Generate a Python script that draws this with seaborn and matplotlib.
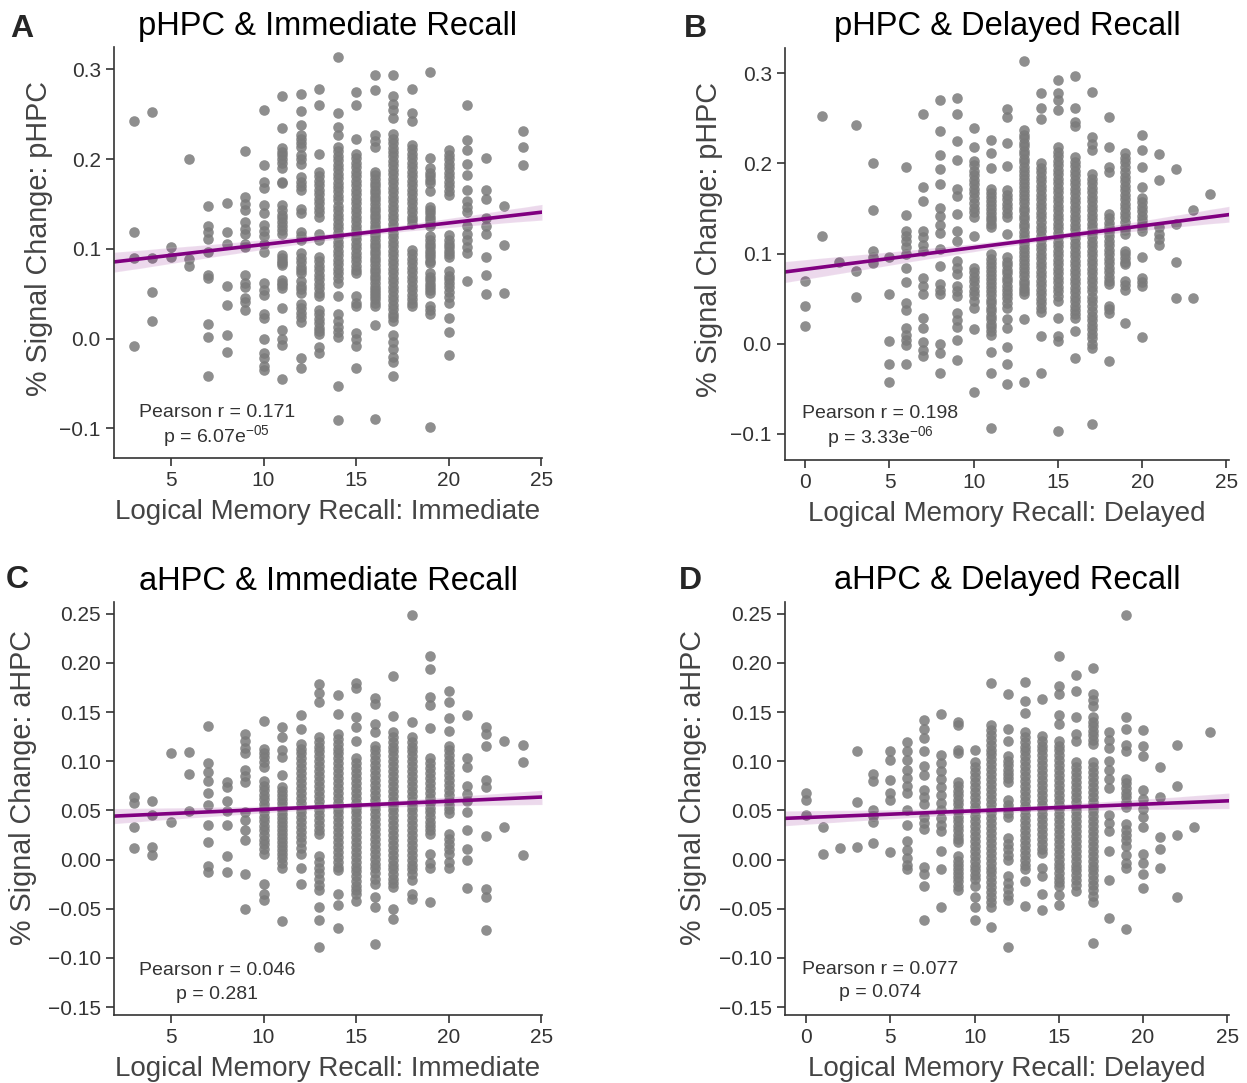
import numpy as np
import pandas as pd
import matplotlib.pyplot as plt
import seaborn as sns

# recall score -> % signal change
phpc_immediate = {
    3: [0.243, 0.119, 0.090, -0.008],
    4: [0.253, 0.090, 0.052, 0.020],
    5: [0.102, 0.091],
    6: [0.200, 0.089, 0.081],
    7: [0.148, 0.126, 0.119, 0.111, 0.097, 0.071, 0.068, 0.016, 0.002, -0.042],
    8: [0.151, 0.119, 0.106, 0.059, 0.037, 0.004, -0.015],
    9: [0.209, 0.158, 0.150, 0.143, 0.130, 0.122, 0.117, 0.105, 0.102, 0.071, 0.062, 0.058, 0.045, 0.041, 0.032],
    10: [0.255, 0.194, 0.175, 0.168, 0.149, 0.140, 0.127, 0.120, 0.114, 0.106, 0.097, 0.062, 0.054, 0.049,
         0.028, 0.023, 0.000, -0.016, -0.022, -0.031, -0.035],
    11: [0.270, 0.235, 0.212, 0.208, 0.205, 0.200, 0.196, 0.190, 0.175, 0.173, 0.149, 0.143, 0.138, 0.134,
         0.130, 0.125, 0.121, 0.117, 0.093, 0.090, 0.087, 0.084, 0.082, 0.065, 0.062, 0.060, 0.056, 0.034,
         0.010, 0.000, -0.007, -0.045],
    12: [0.273, 0.254, 0.238, 0.227, 0.222, 0.218, 0.214, 0.205, 0.200, 0.195, 0.180, 0.175, 0.170, 0.166,
         0.145, 0.140, 0.119, 0.114, 0.110, 0.095, 0.090, 0.085, 0.080, 0.076, 0.073, 0.064, 0.059, 0.055,
         0.051, 0.039, 0.034, 0.029, 0.024, 0.019, -0.022, -0.033],
    13: [0.278, 0.260, 0.206, 0.186, 0.181, 0.176, 0.171, 0.166, 0.161, 0.156, 0.151, 0.146, 0.141, 0.136,
         0.117, 0.110, 0.091, 0.086, 0.081, 0.076, 0.071, 0.066, 0.061, 0.056, 0.051, 0.047, 0.032, 0.027,
         0.022, 0.017, 0.012, 0.008, 0.005, -0.009, -0.016],
    14: [0.314, 0.252, 0.236, 0.227, 0.214, 0.209, 0.204, 0.199, 0.194, 0.189, 0.184, 0.179, 0.174, 0.169,
         0.164, 0.159, 0.154, 0.148, 0.143, 0.138, 0.133, 0.128, 0.123, 0.118, 0.113, 0.108, 0.103, 0.098,
         0.093, 0.088, 0.083, 0.078, 0.073, 0.068, 0.062, 0.047, 0.027, 0.020, 0.013, 0.007, 0.002, -0.053, -0.091],
    15: [0.275, 0.260, 0.222, 0.206, 0.201, 0.196, 0.191, 0.186, 0.181, 0.176, 0.171, 0.166, 0.161, 0.156,
         0.151, 0.146, 0.141, 0.136, 0.131, 0.126, 0.121, 0.116, 0.111, 0.106, 0.101, 0.096, 0.091, 0.086,
         0.081, 0.077, 0.073, 0.047, 0.040, 0.036, 0.006, 0.000, -0.008, -0.033],
    16: [0.294, 0.277, 0.227, 0.220, 0.214, 0.186, 0.182, 0.178, 0.174, 0.170, 0.166, 0.162, 0.158, 0.154,
         0.150, 0.146, 0.142, 0.138, 0.134, 0.130, 0.126, 0.122, 0.118, 0.114, 0.110, 0.106, 0.102, 0.098,
         0.094, 0.090, 0.086, 0.082, 0.078, 0.074, 0.070, 0.066, 0.062, 0.058, 0.054, 0.051, 0.047, 0.044,
         0.040, 0.036, 0.015, -0.089],
    17: [0.294, 0.270, 0.262, 0.255, 0.246, 0.228, 0.223, 0.218, 0.213, 0.208, 0.203, 0.198, 0.193, 0.188,
         0.183, 0.178, 0.173, 0.168, 0.163, 0.158, 0.153, 0.148, 0.143, 0.138, 0.133, 0.128, 0.123, 0.118,
         0.113, 0.108, 0.103, 0.098, 0.093, 0.088, 0.083, 0.078, 0.073, 0.068, 0.063, 0.058, 0.053, 0.048,
         0.043, 0.038, 0.033, 0.028, 0.024, 0.020, 0.004, -0.004, -0.012, -0.020, -0.026, -0.042],
    18: [0.278, 0.252, 0.242, 0.216, 0.211, 0.206, 0.201, 0.196, 0.191, 0.186, 0.181, 0.176, 0.171, 0.166,
         0.161, 0.156, 0.151, 0.146, 0.141, 0.136, 0.132, 0.128, 0.099, 0.094, 0.089, 0.084, 0.079, 0.074,
         0.069, 0.064, 0.059, 0.054, 0.049, 0.044, 0.040, 0.036],
    19: [0.297, 0.201, 0.190, 0.185, 0.181, 0.177, 0.173, 0.164, 0.147, 0.143, 0.140, 0.136, 0.132, 0.128,
         0.125, 0.114, 0.110, 0.106, 0.102, 0.098, 0.094, 0.091, 0.087, 0.084, 0.073, 0.069, 0.065, 0.061,
         0.058, 0.054, 0.051, 0.036, 0.032, 0.028, -0.098],
    20: [0.210, 0.205, 0.200, 0.195, 0.190, 0.185, 0.180, 0.175, 0.170, 0.165, 0.160, 0.115, 0.110, 0.106,
         0.102, 0.098, 0.094, 0.091, 0.075, 0.070, 0.066, 0.062, 0.057, 0.052, 0.046, 0.040, 0.023, 0.007, -0.018],
    21: [0.260, 0.221, 0.210, 0.195, 0.182, 0.166, 0.153, 0.147, 0.141, 0.125, 0.117, 0.110, 0.102, 0.095, 0.064],
    22: [0.201, 0.166, 0.156, 0.134, 0.125, 0.117, 0.091, 0.071, 0.050],
    23: [0.148, 0.104, 0.051],
    24: [0.231, 0.214, 0.194],
}

phpc_delayed = {
    0: [0.070, 0.042, 0.020],
    1: [0.253, 0.119],
    2: [0.091],
    3: [0.243, 0.081, 0.052],
    4: [0.200, 0.148, 0.103, 0.096, 0.089],
    5: [0.096, 0.055, 0.003, -0.022, -0.043],
    6: [0.196, 0.143, 0.125, 0.119, 0.114, 0.107, 0.099, 0.084, 0.068, 0.045, 0.037, 0.017, 0.010, 0.004,
        -0.001, -0.022],
    7: [0.255, 0.174, 0.158, 0.125, 0.118, 0.110, 0.103, 0.073, 0.064, 0.055, 0.029, 0.017, 0.002, -0.007, -0.014],
    8: [0.270, 0.236, 0.209, 0.194, 0.177, 0.151, 0.142, 0.132, 0.123, 0.105, 0.086, 0.066, 0.060, 0.055,
        0.000, -0.010, -0.033],
    9: [0.272, 0.255, 0.225, 0.204, 0.172, 0.164, 0.144, 0.125, 0.114, 0.092, 0.084, 0.077, 0.064, 0.058,
        0.053, 0.034, 0.026, 0.019, 0.004, -0.018],
    10: [0.239, 0.218, 0.203, 0.198, 0.192, 0.187, 0.182, 0.177, 0.172, 0.167, 0.162, 0.156, 0.151, 0.146,
         0.140, 0.120, 0.084, 0.079, 0.074, 0.069, 0.064, 0.059, 0.054, 0.047, 0.040, 0.016, -0.054],
    11: [0.226, 0.211, 0.195, 0.172, 0.167, 0.163, 0.158, 0.154, 0.149, 0.145, 0.141, 0.137, 0.133, 0.129,
         0.099, 0.094, 0.090, 0.085, 0.081, 0.076, 0.072, 0.067, 0.063, 0.058, 0.054, 0.049, 0.045, 0.040,
         0.036, 0.031, 0.027, 0.022, 0.018, 0.014, 0.010, -0.009, -0.033, -0.093],
    12: [0.260, 0.251, 0.223, 0.197, 0.170, 0.165, 0.160, 0.155, 0.150, 0.145, 0.140, 0.122, 0.096, 0.091,
         0.087, 0.082, 0.078, 0.073, 0.069, 0.064, 0.060, 0.055, 0.051, 0.045, 0.040, 0.027, 0.017, -0.004,
         -0.023, -0.045],
    13: [0.314, 0.237, 0.232, 0.228, 0.223, 0.219, 0.214, 0.210, 0.205, 0.201, 0.196, 0.192, 0.187, 0.183,
         0.178, 0.174, 0.169, 0.165, 0.160, 0.156, 0.151, 0.147, 0.142, 0.138, 0.133, 0.129, 0.124, 0.120,
         0.115, 0.111, 0.106, 0.102, 0.097, 0.093, 0.088, 0.084, 0.079, 0.075, 0.070, 0.066, 0.062, 0.058,
         0.055, 0.027, -0.042],
    14: [0.278, 0.261, 0.249, 0.200, 0.195, 0.190, 0.185, 0.180, 0.175, 0.170, 0.165, 0.160, 0.155, 0.150,
         0.145, 0.140, 0.135, 0.130, 0.125, 0.120, 0.115, 0.110, 0.105, 0.100, 0.095, 0.090, 0.085, 0.080,
         0.075, 0.070, 0.065, 0.060, 0.055, 0.050, 0.045, 0.040, 0.035, 0.008, -0.033],
    15: [0.293, 0.278, 0.270, 0.259, 0.218, 0.213, 0.208, 0.203, 0.198, 0.193, 0.188, 0.183, 0.178, 0.173,
         0.168, 0.163, 0.158, 0.153, 0.148, 0.143, 0.138, 0.133, 0.128, 0.123, 0.118, 0.113, 0.108, 0.103,
         0.098, 0.093, 0.088, 0.083, 0.078, 0.073, 0.068, 0.063, 0.058, 0.053, 0.047, 0.029, 0.008, 0.003, -0.097],
    16: [0.297, 0.261, 0.246, 0.241, 0.207, 0.202, 0.197, 0.192, 0.187, 0.182, 0.177, 0.172, 0.167, 0.162,
         0.157, 0.152, 0.147, 0.142, 0.137, 0.132, 0.127, 0.122, 0.117, 0.112, 0.107, 0.102, 0.097, 0.092,
         0.087, 0.082, 0.077, 0.072, 0.067, 0.062, 0.057, 0.052, 0.047, 0.042, 0.037, 0.033, 0.029, 0.014, -0.016],
    17: [0.279, 0.229, 0.222, 0.215, 0.188, 0.183, 0.178, 0.173, 0.168, 0.163, 0.158, 0.153, 0.148, 0.143,
         0.138, 0.133, 0.128, 0.123, 0.118, 0.113, 0.108, 0.103, 0.098, 0.093, 0.088, 0.083, 0.078, 0.073,
         0.068, 0.063, 0.058, 0.052, 0.047, 0.042, 0.036, 0.031, 0.026, 0.021, 0.016, 0.011, 0.006, 0.000,
         -0.005, -0.089],
    18: [0.251, 0.218, 0.196, 0.190, 0.144, 0.139, 0.134, 0.129, 0.124, 0.119, 0.114, 0.109, 0.104, 0.099,
         0.094, 0.089, 0.084, 0.079, 0.074, 0.070, 0.066, 0.042, 0.038, 0.034, -0.019],
    19: [0.211, 0.206, 0.201, 0.196, 0.190, 0.185, 0.180, 0.175, 0.170, 0.165, 0.160, 0.155, 0.150, 0.145,
         0.140, 0.135, 0.130, 0.126, 0.122, 0.103, 0.099, 0.095, 0.091, 0.088, 0.070, 0.065, 0.060, 0.023],
    20: [0.231, 0.215, 0.196, 0.174, 0.162, 0.157, 0.152, 0.147, 0.142, 0.137, 0.133, 0.129, 0.125, 0.096,
         0.073, 0.068, 0.064, 0.007],
    21: [0.210, 0.182, 0.129, 0.122, 0.116, 0.110],
    22: [0.194, 0.133, 0.091, 0.051],
    23: [0.148, 0.051],
    24: [0.166],
}

ahpc_immediate = {
    3: [0.064, 0.058, 0.033, 0.012],
    4: [0.060, 0.045, 0.013, 0.005],
    5: [0.108, 0.038],
    6: [0.109, 0.087, 0.049],
    7: [0.136, 0.098, 0.089, 0.080, 0.068, 0.056, 0.035, 0.018, -0.006, -0.013],
    8: [0.079, 0.074, 0.060, 0.049, 0.035, 0.004, -0.013],
    9: [0.128, 0.121, 0.114, 0.108, 0.091, 0.085, 0.079, 0.048, 0.040, 0.030, 0.020, -0.015, -0.050],
    10: [0.141, 0.113, 0.108, 0.104, 0.099, 0.094, 0.080, 0.075, 0.071, 0.066, 0.062, 0.057, 0.053, 0.048,
         0.043, 0.039, 0.034, 0.030, 0.025, 0.020, 0.016, 0.011, 0.006, -0.025, -0.035, -0.041],
    11: [0.135, 0.125, 0.111, 0.104, 0.086, 0.074, 0.070, 0.066, 0.062, 0.058, 0.054, 0.050, 0.046, 0.042,
         0.038, 0.034, 0.030, 0.026, 0.022, 0.018, 0.014, 0.010, 0.006, 0.002, -0.003, -0.008, -0.062],
    12: [0.147, 0.133, 0.118, 0.113, 0.108, 0.103, 0.098, 0.093, 0.088, 0.083, 0.078, 0.073, 0.068, 0.063,
         0.058, 0.053, 0.048, 0.043, 0.038, 0.033, 0.028, 0.023, 0.018, 0.012, 0.006, -0.009, -0.025],
    13: [0.179, 0.169, 0.160, 0.125, 0.120, 0.115, 0.110, 0.105, 0.100, 0.095, 0.090, 0.085, 0.080, 0.075,
         0.070, 0.065, 0.060, 0.055, 0.050, 0.045, 0.040, 0.035, 0.030, 0.026, 0.004, -0.002, -0.008, -0.014,
         -0.020, -0.026, -0.031, -0.048, -0.061, -0.089],
    14: [0.167, 0.148, 0.128, 0.123, 0.118, 0.113, 0.108, 0.103, 0.098, 0.093, 0.088, 0.083, 0.078, 0.073,
         0.068, 0.063, 0.058, 0.053, 0.048, 0.043, 0.038, 0.033, 0.028, 0.023, 0.018, 0.013, 0.008, 0.003,
         -0.002, -0.007, -0.011, -0.035, -0.046, -0.070],
    15: [0.180, 0.175, 0.145, 0.135, 0.121, 0.103, 0.098, 0.093, 0.088, 0.083, 0.078, 0.073, 0.068, 0.063,
         0.058, 0.053, 0.048, 0.043, 0.038, 0.033, 0.028, 0.023, 0.018, 0.013, 0.008, 0.003, -0.002, -0.007,
         -0.012, -0.017, -0.022, -0.027, -0.031, -0.035, -0.042],
    16: [0.164, 0.158, 0.138, 0.130, 0.116, 0.111, 0.106, 0.101, 0.096, 0.091, 0.086, 0.081, 0.076, 0.071,
         0.066, 0.061, 0.056, 0.051, 0.046, 0.041, 0.036, 0.031, 0.026, 0.021, 0.016, 0.011, 0.006, 0.001,
         -0.004, -0.009, -0.014, -0.020, -0.025, -0.038, -0.048, -0.086],
    17: [0.187, 0.146, 0.130, 0.125, 0.120, 0.115, 0.110, 0.105, 0.100, 0.095, 0.090, 0.085, 0.080, 0.075,
         0.070, 0.065, 0.060, 0.055, 0.050, 0.045, 0.040, 0.035, 0.030, 0.025, 0.020, 0.015, 0.010, 0.005,
         0.000, -0.005, -0.010, -0.015, -0.020, -0.024, -0.028, -0.050, -0.060],
    18: [0.249, 0.140, 0.125, 0.120, 0.115, 0.110, 0.105, 0.100, 0.095, 0.090, 0.085, 0.080, 0.075, 0.070,
         0.065, 0.060, 0.055, 0.050, 0.045, 0.040, 0.035, 0.030, 0.025, 0.020, 0.015, 0.010, 0.005, 0.000,
         -0.005, -0.010, -0.015, -0.021, -0.035, -0.040],
    19: [0.207, 0.194, 0.165, 0.157, 0.134, 0.103, 0.098, 0.093, 0.088, 0.083, 0.078, 0.073, 0.068, 0.063,
         0.058, 0.053, 0.048, 0.043, 0.038, 0.034, 0.030, 0.026, 0.006, -0.003, -0.009, -0.043],
    20: [0.172, 0.160, 0.144, 0.131, 0.116, 0.111, 0.106, 0.101, 0.096, 0.091, 0.086, 0.081, 0.076, 0.071,
         0.066, 0.061, 0.056, 0.051, 0.047, 0.026, 0.021, 0.016, 0.011, 0.006, -0.002, -0.008],
    21: [0.147, 0.103, 0.094, 0.075, 0.067, 0.060, 0.048, 0.030, 0.011, 0.000, -0.029],
    22: [0.135, 0.128, 0.116, 0.081, 0.074, 0.024, -0.030, -0.038, -0.072],
    23: [0.121, 0.033],
    24: [0.117, 0.099, 0.005],
}

ahpc_delayed = {
    0: [0.068, 0.061, 0.045],
    1: [0.033, 0.006],
    2: [0.012],
    3: [0.110, 0.059, 0.013],
    4: [0.087, 0.080, 0.050, 0.044, 0.038, 0.017],
    5: [0.110, 0.101, 0.081, 0.068, 0.061, 0.008],
    6: [0.120, 0.110, 0.101, 0.091, 0.083, 0.075, 0.068, 0.050, 0.035, 0.019, 0.010, 0.002, -0.005, -0.010],
    7: [0.142, 0.133, 0.124, 0.110, 0.095, 0.086, 0.071, 0.064, 0.057, 0.043, 0.037, 0.031, -0.007, -0.015,
        -0.027, -0.061],
    8: [0.148, 0.106, 0.098, 0.090, 0.082, 0.074, 0.066, 0.058, 0.050, 0.042, 0.035, 0.029, 0.009, -0.010, -0.048],
    9: [0.140, 0.137, 0.112, 0.108, 0.079, 0.075, 0.070, 0.066, 0.061, 0.057, 0.052, 0.048, 0.043, 0.039,
        0.034, 0.030, 0.025, 0.021, 0.018, 0.004, -0.001, -0.005, -0.010, -0.014, -0.018, -0.022, -0.027, -0.031],
    10: [0.112, 0.099, 0.094, 0.089, 0.084, 0.079, 0.074, 0.069, 0.064, 0.059, 0.054, 0.049, 0.044, 0.039,
         0.034, 0.029, 0.024, 0.019, 0.014, 0.009, 0.004, -0.001, -0.006, -0.011, -0.016, -0.020, -0.027,
         -0.038, -0.048, -0.061],
    11: [0.180, 0.137, 0.132, 0.127, 0.122, 0.117, 0.112, 0.107, 0.102, 0.097, 0.092, 0.087, 0.082, 0.077,
         0.072, 0.067, 0.062, 0.057, 0.052, 0.047, 0.042, 0.037, 0.032, 0.027, 0.022, 0.017, 0.012, 0.007,
         0.002, -0.003, -0.008, -0.013, -0.018, -0.023, -0.028, -0.033, -0.038, -0.043, -0.048, -0.069],
    12: [0.168, 0.133, 0.121, 0.105, 0.100, 0.096, 0.091, 0.087, 0.083, 0.079, 0.061, 0.056, 0.052, 0.047,
         0.043, 0.022, 0.016, 0.011, 0.005, 0.000, -0.017, -0.024, -0.030, -0.036, -0.041, -0.089],
    13: [0.181, 0.161, 0.149, 0.130, 0.125, 0.120, 0.115, 0.110, 0.105, 0.100, 0.095, 0.090, 0.085, 0.080,
         0.075, 0.070, 0.065, 0.060, 0.055, 0.050, 0.045, 0.040, 0.035, 0.030, 0.025, 0.020, 0.015, 0.010,
         0.005, 0.000, -0.005, -0.010, -0.022, -0.047],
    14: [0.163, 0.126, 0.121, 0.116, 0.111, 0.106, 0.101, 0.096, 0.091, 0.086, 0.081, 0.076, 0.071, 0.066,
         0.061, 0.056, 0.051, 0.046, 0.041, 0.036, 0.031, 0.026, 0.021, 0.016, 0.011, 0.007, -0.009, -0.017,
         -0.035, -0.051],
    15: [0.207, 0.177, 0.168, 0.147, 0.138, 0.121, 0.116, 0.111, 0.106, 0.101, 0.096, 0.091, 0.086, 0.081,
         0.076, 0.071, 0.066, 0.061, 0.056, 0.051, 0.046, 0.041, 0.036, 0.031, 0.026, 0.021, 0.016, 0.011,
         0.006, 0.001, -0.004, -0.009, -0.014, -0.019, -0.023, -0.027, -0.036, -0.046],
    16: [0.188, 0.172, 0.145, 0.128, 0.121, 0.099, 0.094, 0.089, 0.084, 0.079, 0.074, 0.069, 0.064, 0.059,
         0.054, 0.049, 0.044, 0.039, 0.034, 0.029, 0.024, 0.019, 0.014, 0.009, 0.004, -0.001, -0.006, -0.011,
         -0.016, -0.021, -0.026, -0.032],
    17: [0.195, 0.168, 0.162, 0.156, 0.145, 0.140, 0.136, 0.131, 0.127, 0.122, 0.118, 0.099, 0.094, 0.089,
         0.084, 0.079, 0.074, 0.069, 0.064, 0.059, 0.054, 0.049, 0.044, 0.039, 0.034, 0.029, 0.024, 0.019,
         0.014, 0.009, 0.004, -0.001, -0.006, -0.011, -0.016, -0.021, -0.026, -0.031, -0.037, -0.043, -0.085],
    18: [0.130, 0.122, 0.114, 0.100, 0.091, 0.082, 0.073, 0.045, 0.037, 0.029, 0.009, -0.021, -0.059],
    19: [0.249, 0.145, 0.133, 0.117, 0.110, 0.082, 0.078, 0.073, 0.068, 0.064, 0.059, 0.054, 0.036, 0.030,
         0.025, 0.020, 0.014, 0.005, -0.003, -0.009, -0.071],
    20: [0.132, 0.116, 0.105, 0.071, 0.062, 0.052, 0.043, 0.033, 0.006, -0.003, -0.015, -0.029],
    21: [0.094, 0.064, 0.023, 0.011, -0.008],
    22: [0.117, 0.075, 0.025, -0.038],
    23: [0.033],
    24: [0.130],
}

letters = ["A", "B", "C", "D"]
titles = ["pHPC & Immediate Recall", "pHPC & Delayed Recall",
          "aHPC & Immediate Recall", "aHPC & Delayed Recall"]
xlabels = ["Logical Memory Recall: Immediate", "Logical Memory Recall: Delayed"] * 2
ylabels = ["% Signal Change: pHPC"] * 2 + ["% Signal Change: aHPC"] * 2
r_texts = ["Pearson r = 0.171", "Pearson r = 0.198", "Pearson r = 0.046", "Pearson r = 0.077"]
p_texts = ["p = 6.07e$^{-05}$", "p = 3.33e$^{-06}$", "p = 0.281", "p = 0.074"]


def to_frame(cols):
    rows = [(x, y) for x, ys in cols.items() for y in ys]
    return pd.DataFrame(rows, columns=["recall", "signal"])


sns.set_style("ticks")
plt.rcParams["font.family"] = ["Liberation Sans", "DejaVu Sans"]
plt.rcParams["mathtext.default"] = "regular"

fig = plt.figure(figsize=(12.47, 10.83), dpi=100)

W, H = 1247, 1083
# axes boxes in pixels: left, top, right, bottom
boxes = [(114, 47, 542, 458), (785, 48, 1229, 460),
         (114, 602, 542, 1015), (785, 602, 1229, 1015)]
letter_pos = [(10, 29), (684, 29), (6, 580), (679, 581)]
ylabel_xy = [(-0.143, 0.533), (-0.14, 0.536), (-0.18, 0.552), (-0.176, 0.55)]
xlims = [(1.92, 25.05), (-1.2, 25.15), (1.92, 25.05), (-1.25, 25.1)]
ylims = [(-0.133, 0.325), (-0.129, 0.328), (-0.158, 0.262), (-0.158, 0.262)]
xticks = [[5, 10, 15, 20, 25], [0, 5, 10, 15, 20, 25]] * 2
yticks = [[-0.1, 0.0, 0.1, 0.2, 0.3]] * 2 + [list(np.arange(-0.15, 0.26, 0.05))] * 2
text_x = [0.24, 0.214, 0.24, 0.214]
text_y = [0.11, 0.112, 0.107, 0.111]

datasets = [phpc_immediate, phpc_delayed, ahpc_immediate, ahpc_delayed]

for i, cols in enumerate(datasets):
    df = to_frame(cols)
    l, t, r, b = boxes[i]
    ax = fig.add_axes([l / W, 1 - b / H, (r - l) / W, (b - t) / H])
    ax.set_xlim(*xlims[i])
    ax.set_ylim(*ylims[i])
    # band looks like a 68% interval in the original
    sns.regplot(data=df, x="recall", y="signal", ax=ax, truncate=False, color="purple", ci=68, seed=3,
                scatter_kws=dict(color="#7a7a7a", alpha=0.85, s=58, linewidths=0),
                line_kws=dict(lw=2.6))
    ax.set_xticks(xticks[i])
    ax.set_yticks(yticks[i])
    ax.set_xlim(*xlims[i])
    ax.set_ylim(*ylims[i])
    ax.set_title(titles[i], fontsize=23.5, pad=9, color="black")
    ax.set_xlabel(xlabels[i], fontsize=20, color="#444444", labelpad=6)
    ax.set_ylabel(ylabels[i], fontsize=20.7, color="#444444")
    ax.yaxis.set_label_coords(*ylabel_xy[i])
    ax.tick_params(labelsize=15, length=6, width=1.2, color="#333333", labelcolor="#333333")
    for side in ["left", "bottom"]:
        ax.spines[side].set_linewidth(1.2)
        ax.spines[side].set_color("#333333")
    sns.despine(ax=ax)

    ax.text(text_x[i], text_y[i], r_texts[i], transform=ax.transAxes, ha="center", va="center",
            fontsize=14, color="#333333")
    ax.text(text_x[i], text_y[i] - 0.057, p_texts[i], transform=ax.transAxes, ha="center", va="center",
            fontsize=14, color="#333333")

    lx, ly = letter_pos[i]
    fig.text(lx / W, 1 - ly / H, letters[i], fontsize=23, fontweight="bold", ha="left", va="center")

plt.savefig("out.png", dpi=100)
